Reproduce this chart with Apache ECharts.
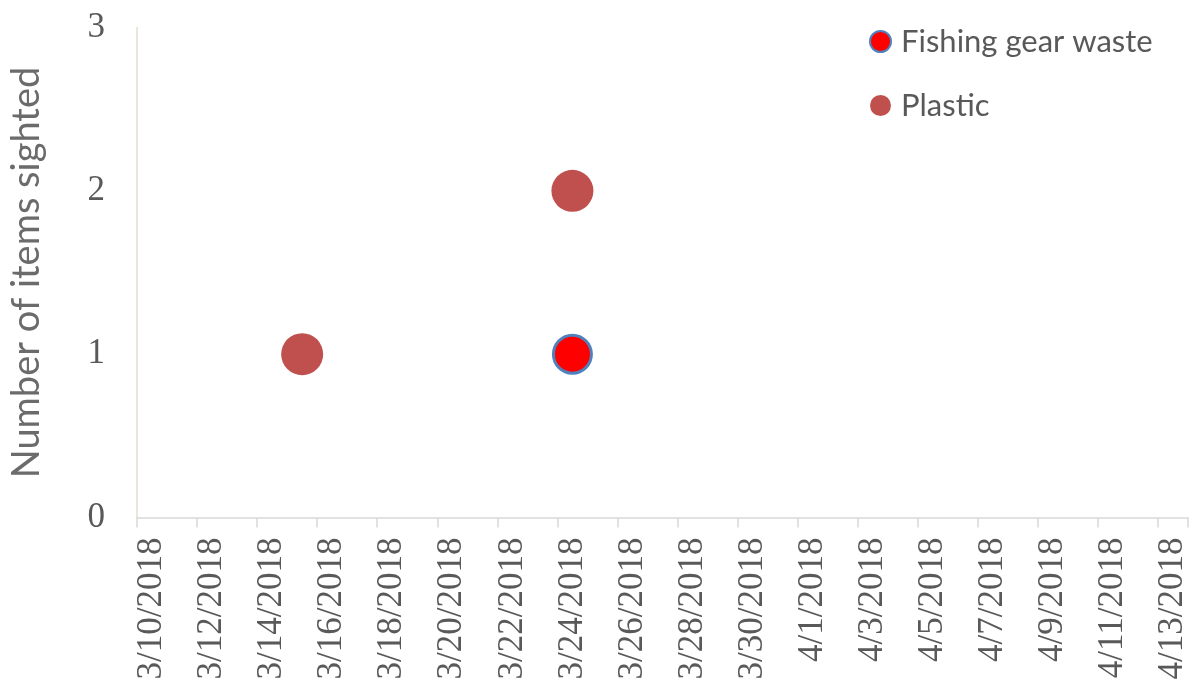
<!DOCTYPE html>
<html>
<head>
<meta charset="utf-8">
<script src="https://cdn.jsdelivr.net/npm/echarts@6/dist/echarts.min.js"></script>
<style>
  html, body { margin: 0; padding: 0; background: #ffffff; }
  #chart { width: 1192px; height: 686px; }
</style>
</head>
<body>
<div id="chart"></div>
<script>
// One category per survey day, 10 March to 13 April 2018
const days = [
  '3/10/2018', '3/11/2018', '3/12/2018', '3/13/2018', '3/14/2018', '3/15/2018', '3/16/2018',
  '3/17/2018', '3/18/2018', '3/19/2018', '3/20/2018', '3/21/2018', '3/22/2018', '3/23/2018',
  '3/24/2018', '3/25/2018', '3/26/2018', '3/27/2018', '3/28/2018', '3/29/2018', '3/30/2018',
  '3/31/2018', '4/1/2018', '4/2/2018', '4/3/2018', '4/4/2018', '4/5/2018', '4/6/2018',
  '4/7/2018', '4/8/2018', '4/9/2018', '4/10/2018', '4/11/2018', '4/12/2018', '4/13/2018'
];

// Sightings per day: [date, count]
const fishingGear = [['3/24/2018', 1]];
const plastic = [['3/15/2018', 1], ['3/24/2018', 2]];

const yTicks = [0, 1, 2, 3];

const serif = '"Liberation Serif", "DejaVu Serif", serif';
const sans = 'Lato, "Open Sans", sans-serif';

const chart = echarts.init(document.getElementById('chart'), null, { renderer: 'canvas' });

chart.setOption({
  animation: false,
  backgroundColor: '#ffffff',
  grid: { left: 135, top: 27.5, right: 4, bottom: 168.5, containLabel: false },
  legend: {
    orient: 'vertical',
    left: 864,
    top: 21,
    itemWidth: 21,
    itemHeight: 21,
    itemGap: 33,
    icon: 'circle',
    textStyle: { fontFamily: sans, fontSize: 31, color: '#595959', padding: [0, 0, 0, 5] },
    data: ['Fishing gear waste', 'Plastic']
  },
  xAxis: {
    type: 'category',
    data: days,
    boundaryGap: true,
    axisLine: { lineStyle: { color: '#d9d9d9', width: 1.5 } },
    axisTick: { show: true, interval: 1, length: 10, lineStyle: { color: '#d9d9d9', width: 1.5 } },
    axisLabel: {
      interval: 1,
      rotate: 90,
      margin: 20,
      fontFamily: serif,
      fontSize: 35,
      color: '#595959'
    },
    splitLine: { show: false }
  },
  yAxis: {
    type: 'value',
    min: yTicks[0],
    max: yTicks[yTicks.length - 1],
    interval: 1,
    name: 'Number of items sighted',
    nameLocation: 'middle',
    nameRotate: 90,
    nameGap: 91,
    nameTextStyle: { fontFamily: sans, fontSize: 38, color: '#6b6b6b' },
    axisLine: { show: true, lineStyle: { color: '#e3dfcc', width: 1.5 } },
    axisTick: { show: false },
    axisLabel: {
      margin: 32,
      fontFamily: serif,
      fontSize: 35,
      color: '#595959',
      formatter: v => (yTicks.indexOf(v) >= 0 ? String(v) : '')
    },
    splitLine: { show: false }
  },
  series: [
    {
      name: 'Fishing gear waste',
      type: 'scatter',
      data: fishingGear,
      symbol: 'circle',
      symbolSize: 38,
      z: 2,
      itemStyle: { color: '#ff0000', borderColor: '#4f81bd', borderWidth: 3, opacity: 1 }
    },
    {
      name: 'Plastic',
      type: 'scatter',
      data: plastic,
      symbol: 'circle',
      symbolSize: 42,
      z: 3,
      itemStyle: { color: '#c0504d', opacity: 1 }
    }
  ]
});
</script>
</body>
</html>
